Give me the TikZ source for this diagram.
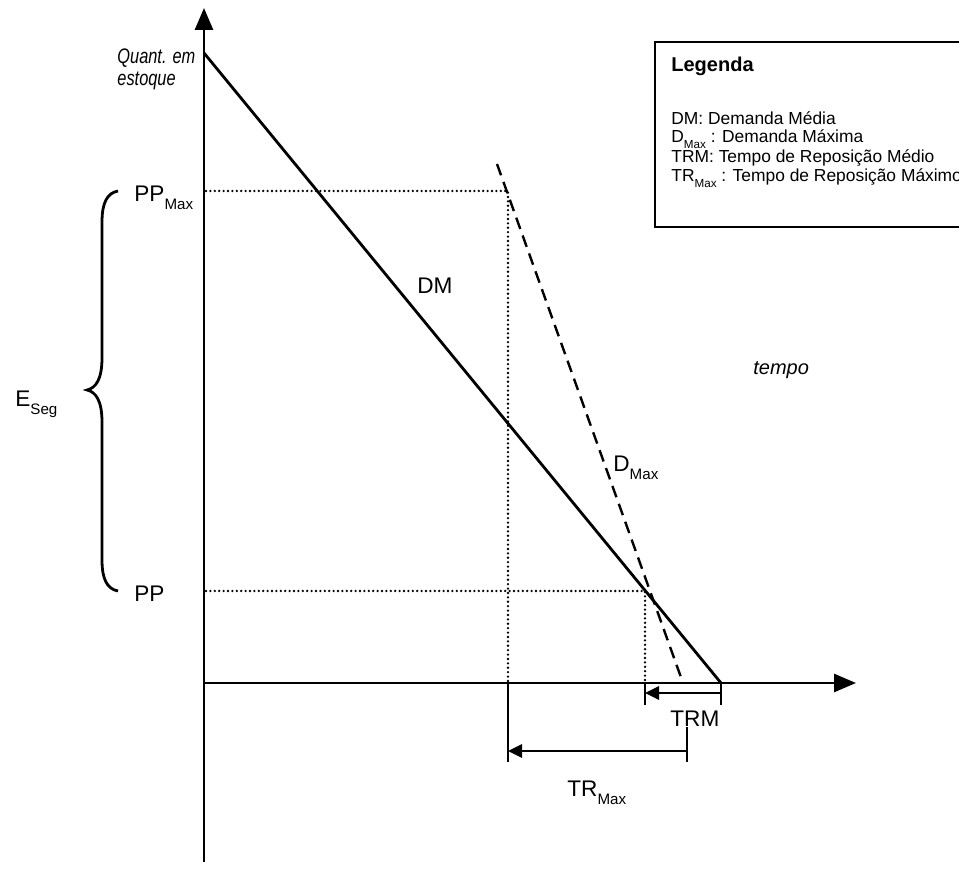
\documentclass[tikz,border=0pt]{standalone}
\usepackage{fontspec}
\setmainfont{Liberation Sans}
\newfontfamily\narrowfont[FakeStretch=0.78]{Liberation Sans}
\usetikzlibrary{arrows.meta,positioning}
\newcommand{\lsub}[1]{\raisebox{-0.34em}{\scalebox{0.67}{#1}}}

\begin{document}
\begin{tikzpicture}[
    x=0.5pt,
    y=-0.5pt,
    >={Triangle[length=11pt,width=9pt]}
]

\tikzset{
    axis/.style={
        line width=1.4pt,
        ->
    },
    demand/.style={line width=1.4pt},
    dotline/.style={
        line width=1.3pt,
        line cap=round,
        dash pattern=on 0pt off 2.2pt
    },
    dashline/.style={
        line width=1.2pt,
        dash pattern=on 6pt off 3.5pt
    },
    tickline/.style={line width=1.4pt},
    dim/.style={
        line width=1.4pt,
        -{Triangle[length=7pt,width=6.5pt]}
    },
    lbl/.style={
        inner sep=0pt,
        anchor=base west,
        font=\fontsize{11.3}{13}\selectfont
    },
    axlbl/.style={
        inner sep=0pt,
        anchor=base west,
        align=left,
        font=\fontsize{10}{11}\selectfont\itshape
    },
    legtext/.style={
        inner sep=0pt,
        anchor=base west,
        font=\fontsize{8.7}{9.5}\selectfont
    }
}

\useasboundingbox (0,0) rectangle (959,870);
\clip (0,0) rectangle (959,870);

\coordinate (ybot) at (204,862);
\coordinate (ytop) at (204,8);
\coordinate (orig) at (204,683);
\coordinate (xend) at (856,683);
\coordinate (dmtop) at (204,53);
\coordinate (dmend) at (721,683);
\coordinate (dxtop) at (497,164);
\coordinate (dxend) at (683,683);
\coordinate (ppmaxL) at (206,191);
\coordinate (ppmaxR) at (508,191);
\coordinate (ppL) at (206,591);
\coordinate (ppR) at (645,591);
\coordinate (trmaxA) at (508,683);
\coordinate (trmaxB) at (508,762);
\coordinate (trmA) at (645,683);
\coordinate (trmB) at (645,705);
\coordinate (endA) at (721,705);
\coordinate (trmaxC) at (687,727);
\coordinate (trmaxD) at (687,762);
\coordinate (trmS) at (721,693);
\coordinate (trmE) at (645,693);
\coordinate (trmaxS) at (687,751);
\coordinate (trmaxE) at (508,751);

\draw[axis] (ybot) -- (ytop);
\draw[axis] (orig) -- (xend);

\draw[demand] (dmtop) -- (dmend);
\draw[dashline] (dxtop) -- (dxend);

\draw[dotline] (ppmaxL) -- (ppmaxR) -- (trmaxA);
\draw[dotline] (ppL) -- (ppR) -- (trmA);

\draw[tickline] (trmaxA) -- (trmaxB);
\draw[tickline] (trmA) -- (trmB);
\draw[tickline] (dmend) -- (endA);
\draw[tickline] (trmaxC) -- (trmaxD);
\draw[dim] (trmS) -- (trmE);
\draw[dim] (trmaxS) -- (trmaxE);

\draw[tickline]
(118,191) .. controls (107,193) and (102,203) .. (102,222)
-- (102,358) .. controls (102,379) and (96,388) .. (87,390)
.. controls (96,392) and (102,401) .. (102,422)
-- (102,560) .. controls (102,579) and (107,589) .. (118,591);

\node[axlbl, font=\fontsize{10.5}{11}\selectfont\narrowfont\itshape] (quant) at (117,86) {Quant. em\\estoque};
\node[axlbl] (tempo) at (753,375) {tempo};

\node[lbl] (ppmaxlbl) at (134,202) {PP\lsub{Max}};
\node[lbl] (pplbl) at (134,602) {PP};
\node[lbl] (eseg) at (15,407) {E\lsub{Seg}};
\node[lbl] (dmlbl) at (417,294) {DM};
\node[lbl] (dmaxlbl) at (613,472) {D\lsub{Max}};
\node[lbl] (trmlbl) at (670,727) {TRM};
\node[lbl] (trmaxlbl) at (567,797) {TR\lsub{Max}};

\draw[line width=1.2pt] (655,42) rectangle (985,227);
\node[legtext, font=\fontsize{10}{12}\selectfont\bfseries] (legtitle) at (671,72) {Legenda};
\node[legtext] (legdm) at (671,124.5) {DM: Demanda Média};
\node[legtext] (legdmax) at (671,143) {D\lsub{Max} : Demanda Máxima};
\node[legtext] (legtrm) at (671,162.5) {TRM: Tempo de Reposição Médio};
\node[legtext] (legtrmax) at (671,181.5) {TR\lsub{Max} : Tempo de Reposição Máximo};

\end{tikzpicture}
\end{document}
